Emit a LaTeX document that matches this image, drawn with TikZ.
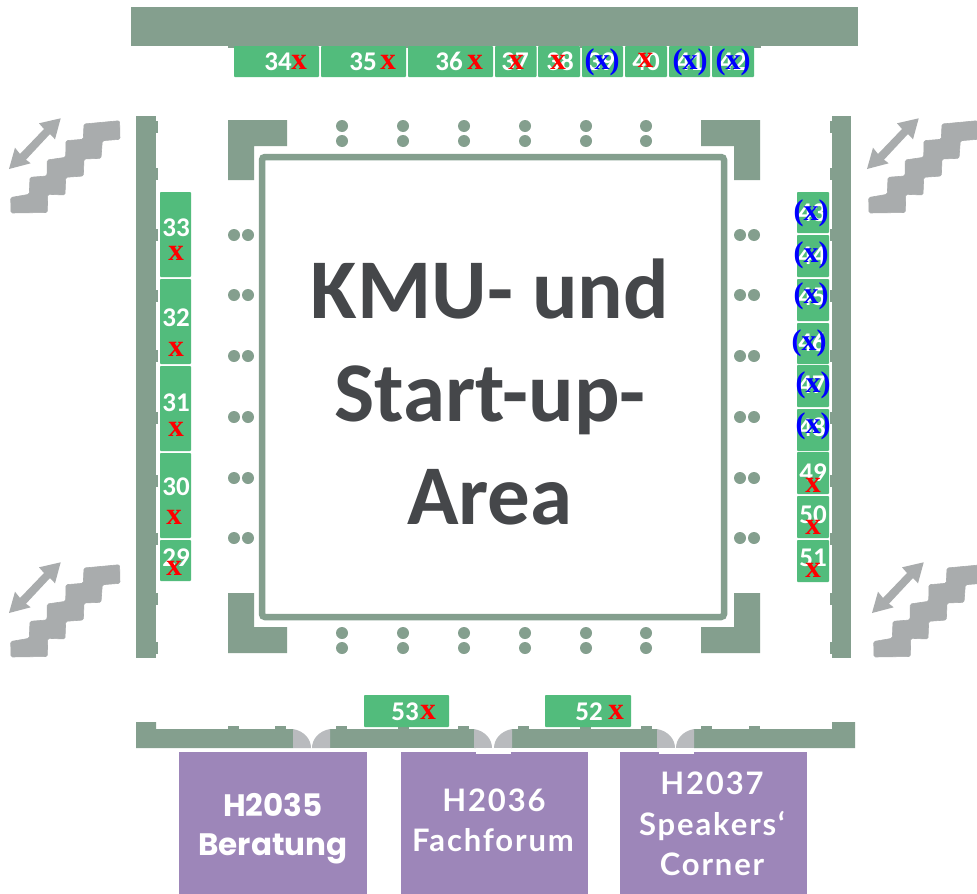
\documentclass[tikz,border=0pt]{standalone}
\usepackage{fontspec}
\setmainfont{Carlito}
\newfontfamily\serifx{Liberation Serif}
\newfontfamily\popp{Poppins}
\newfontfamily\lato[LetterSpace=6]{Lato}
\definecolor{wallc}{HTML}{849F8E}
\definecolor{stallc}{HTML}{52BC7C}
\definecolor{roomc}{HTML}{9D86B9}
\definecolor{stairc}{HTML}{A9ACAD}
\definecolor{doorc}{HTML}{B9BBBE}
\definecolor{titlec}{HTML}{45474A}
\tikzset{
  wallfill/.style={fill=wallc},
  stallfill/.style={fill=stallc},
  numlabel/.style={text=white,anchor=base,yshift=-8.5pt,inner sep=0pt,font=\fontsize{27}{27}\bfseries\selectfont},
  redx/.style={text=red,anchor=base,yshift=-7pt,inner sep=0pt,font=\fontsize{31}{31}\serifx\bfseries\selectfont},
  bluex/.style={text=blue,anchor=base,yshift=-7pt,inner sep=0pt,font=\fontsize{30}{30}\serifx\bfseries\selectfont},
  roomlabel/.style={text=white,inner sep=0pt,anchor=base},
}
\newcommand{\stall}[7]{%
  \fill[stallfill,rounded corners=0.8pt] (#1,#2) rectangle (#3,#4);
  \node[numlabel] (n#5) at (#6,#7) {#5};}
\newcommand{\rx}[3]{\node[redx] (x#1) at (#2,#3) {x};}
\newcommand{\bx}[3]{\node[bluex] (x#1) at (#2,#3) {(x)};}
\newcommand{\stairs}[2]{%
  \filldraw[stairc,line width=0.6pt,line join=round,rounded corners=1.5pt,shift={(#1,#2)}] (11,213) -- (10.7,197.5) -- (29.3,194.3) -- (30,177.3) -- (47,176) -- (47.3,160) -- (65.7,157.3) -- (66,140.7) -- (83.3,139.3) -- (84,124) -- (119.6,120.7) -- (120,139.3) -- (102.3,140.7) -- (101,158.3) -- (84,159) -- (83.3,176) -- (65.7,177.3) -- (65,195) -- (47.7,194.3) -- (47.3,212.5) -- cycle;
  \fill[stairc,shift={(#1,#2)}] (9,169) -- (15,147.7) -- (20,154) -- (44,129) -- (39,123.3) -- (60.7,118.3) -- (55,139.3) -- (50,134) -- (26,159.7) -- (30.7,163.3) -- cycle;}
\newcommand{\door}[2]{%
  \fill[doorc] (#1,729) .. controls (#1+11,731) and (#1+18,739) .. (#1+18,748) -- (#1,748) -- cycle;
  \fill[doorc] (#2,729) .. controls (#2-11,731) and (#2-18,739) .. (#2-18,748) -- (#2,748) -- cycle;}
\begin{document}
\begin{tikzpicture}[x=1pt,y=-1pt]
\useasboundingbox (0,0) rectangle (977,894);
\fill[white] (0,0) rectangle (977,894);
% walls
\fill[wallfill] (131,7) rectangle (858,46);
\foreach \a in {228,336,398,458,519,580,641,750}
  \fill[wallfill] (\a,46) rectangle (\a+11,48);
\fill[wallfill] (136,116) rectangle (156,658);
\fill[wallfill] (832,116) rectangle (851,658);
\foreach \a in {121,168,229,290,350,412,475,533,593,642} {
  \fill[wallfill] (156,\a) rectangle (158,\a+12);
  \fill[wallfill] (830,\a) rectangle (832,\a+12);
}
% bottom wall
\fill[wallfill] (136,722) -- (156,722) -- (156,729) -- (293,729) -- (293,748) -- (136,748) -- cycle;
\fill[wallfill] (330,729) rectangle (474,748);
\fill[wallfill] (512,729) rectangle (657,748);
\fill[wallfill] (694,729) -- (832,729) -- (832,722) -- (855,722) -- (855,748) -- (694,748) -- cycle;
\foreach \a in {228,275,336,398,458,518,580,641,701,749}
  \fill[wallfill] (\a,726) rectangle (\a+11,729);
\door{293}{330}\door{474}{512}\door{657}{694}
% corners
\fill[wallfill] (228,120) -- (287,120) -- (287,146) -- (254,146) -- (254,180) -- (228,180) -- cycle;
\fill[wallfill] (760,120) -- (701,120) -- (701,146) -- (734,146) -- (734,180) -- (760,180) -- cycle;
\fill[wallfill] (228,653) -- (287,653) -- (287,627) -- (254,627) -- (254,593) -- (228,593) -- cycle;
\fill[wallfill] (760,653) -- (701,653) -- (701,627) -- (734,627) -- (734,593) -- (760,593) -- cycle;
% central area
\draw[wallc,line width=6.5pt,rounded corners=3pt] (262,157) rectangle (724,617);
\node[text=titlec,align=center,inner sep=0pt,font=\fontsize{85}{103}\bfseries\selectfont] (title) at (490,392) {KMU- und\\Start-up-\\Area};
% pillars
\foreach \a in {342,403,464,525,586,646}
  \foreach \b in {126,141,633,648}
    \fill[wallc] (\a,\b) circle (6pt);
\foreach \b in {235,295,356,417,478,538}
  \foreach \a in {234,248,740,754}
    \fill[wallc] (\a,\b) circle (6pt);
% stairs
\stairs{0}{0}\stairs{0}{444}\stairs{858}{0}\stairs{863}{444}
% top stalls
\stall{234}{46}{319}{77}{34}{278}{62}\rx{34}{299}{62}
\stall{321}{46}{406}{77}{35}{363}{62}\rx{35}{388}{62}
\stall{408}{46}{493}{77}{36}{449}{62}\rx{36}{475}{62}
\stall{495}{46}{536.5}{77}{37}{515}{62}\rx{37}{516}{62}
\stall{538}{46}{580}{77}{38}{560}{62}\rx{38}{558}{62}
\stall{582}{46}{623}{77}{39}{601}{62}\bx{39}{602}{62}
\stall{625}{46}{667}{77}{40}{646}{62}\rx{40}{645.5}{60}
\stall{669}{46}{710}{77}{41}{690}{62}\bx{41}{690}{62}
\stall{712}{46}{754}{77}{42}{733}{62}\bx{42}{733}{62}
% left stalls
\stall{160}{192}{191}{277}{33}{176}{228}\rx{33}{176}{253}
\stall{160}{279}{191}{364}{32}{176}{318}\rx{32}{176}{349}
\stall{160}{366}{191}{451}{31}{176}{403}\rx{31}{176}{429}
\stall{160}{453}{191}{538}{30}{176}{487}\rx{30}{174}{517}
\stall{160}{540}{191}{581}{29}{176}{558}\rx{29}{174}{568}
% right stalls
\stall{797}{192}{829}{233}{43}{812}{213}\bx{43}{811}{213}
\stall{797}{235}{829}{277}{44}{812}{256}\bx{44}{811}{255}
\stall{797}{279}{829}{321}{45}{812}{297}\bx{45}{811}{296}
\stall{797}{323}{829}{364}{46}{812}{343}\bx{46}{809}{343}
\stall{797}{365}{829}{407}{47}{812}{385}\bx{47}{813}{385}
\stall{797}{409}{829}{451}{48}{812}{428}\bx{48}{813}{426}
\stall{797}{452}{829}{494}{49}{813}{473}\rx{49}{813}{485}
\stall{797}{496}{829}{538}{50}{813}{515}\rx{50}{813}{527}
\stall{797}{540}{829}{582}{51}{813}{558}\rx{51}{813}{570}
% bottom stalls
\stall{364}{695}{449}{727}{53}{405}{712}\rx{53}{428}{712}
\stall{545}{695}{631}{727}{52}{589}{712}\rx{52}{616}{712}
% rooms
\fill[roomc] (179,752) rectangle (367,894);
\fill[roomc] (401,752) rectangle (588,894);
\fill[roomc] (620,752) rectangle (807,894);
\fill[white] (476,748) rectangle (511,754);
\fill[white] (659,748) rectangle (694,754);
\node[roomlabel,font=\fontsize{31}{31}\popp\bfseries\selectfont] (r35a) at (273,816) {H2035};
\node[roomlabel,font=\fontsize{31}{31}\popp\bfseries\selectfont] (r35b) at (273,855) {Beratung};
\node[roomlabel,font=\fontsize{31}{31}\lato\bfseries\selectfont] (r36a) at (494,811) {H2036};
\node[roomlabel,font=\fontsize{31}{31}\lato\bfseries\selectfont] (r36b) at (493,851) {Fachforum};
\node[roomlabel,font=\fontsize{31}{31}\lato\bfseries\selectfont] (r37a) at (712,794) {H2037};
\node[roomlabel,font=\fontsize{31}{31}\lato\bfseries\selectfont] (r37b) at (712,835) {Speakers‘};
\node[roomlabel,font=\fontsize{31}{31}\lato\bfseries\selectfont] (r37c) at (712,875) {Corner};
\end{tikzpicture}
\end{document}
